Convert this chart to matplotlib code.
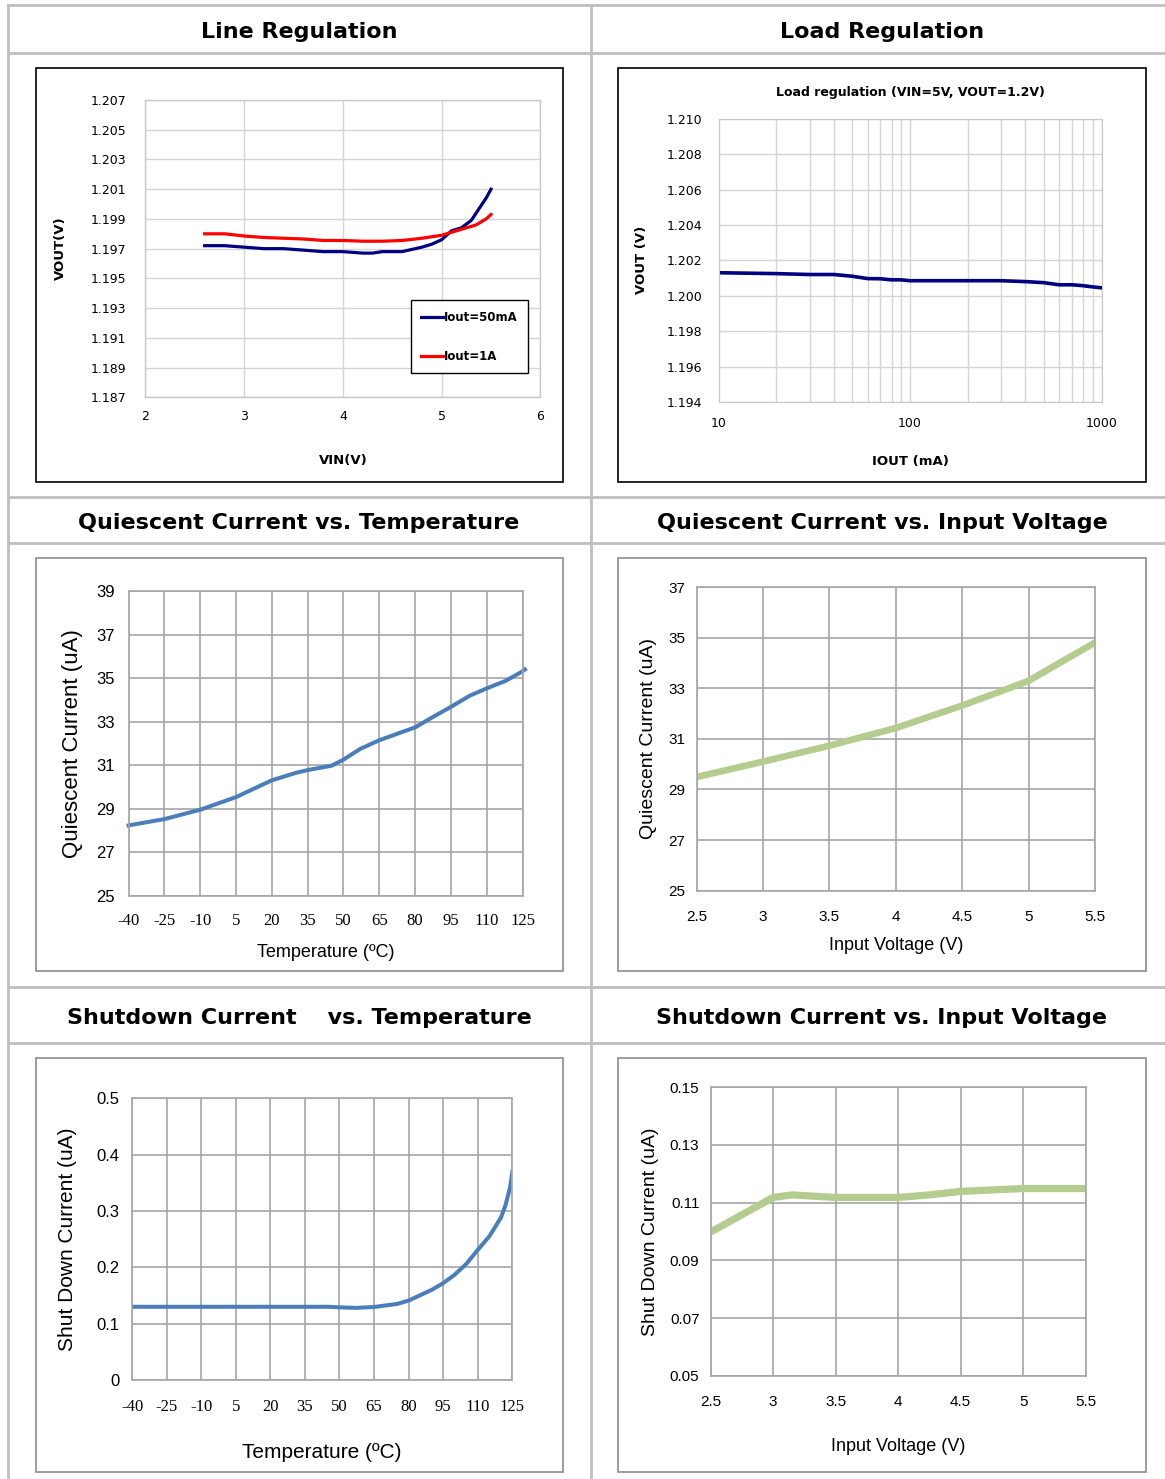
import matplotlib
matplotlib.use("Agg")
import matplotlib.pyplot as plt
from matplotlib.lines import Line2D
from matplotlib.patches import Rectangle
import numpy as np

W, H = 1165, 1479

# ---- data ----
# Line regulation
vin_50ma = [2.6, 2.8, 3.0, 3.2, 3.4, 3.6, 3.8, 4.0, 4.2, 4.3, 4.4, 4.6, 4.8, 4.9, 5.0, 5.05, 5.1, 5.2, 5.3,
            5.36, 5.45, 5.5]
vout_50ma = [1.1972, 1.1972, 1.1971, 1.1970, 1.1970, 1.1969, 1.1968, 1.1968, 1.1967, 1.1967, 1.1968, 1.1968,
             1.1971, 1.1973, 1.1976, 1.1979, 1.1982, 1.1984, 1.1989, 1.1995, 1.2004, 1.2010]
vin_1a = [2.6, 2.8, 3.0, 3.2, 3.4, 3.6, 3.8, 4.0, 4.2, 4.4, 4.6, 4.8, 5.0, 5.2, 5.35, 5.45, 5.5]
vout_1a = [1.1980, 1.1980, 1.19785, 1.19775, 1.1977, 1.19765, 1.19755, 1.19755, 1.1975, 1.1975, 1.19755, 1.1977,
           1.1979, 1.1983, 1.1986, 1.1990, 1.1993]

# Load regulation
iout = [10, 20, 30, 40, 50, 60, 70, 80, 90, 100, 200, 300, 400, 500, 600, 700, 800, 900, 1000]
vout_load = [1.2013, 1.20125, 1.2012, 1.2012, 1.2011, 1.20097, 1.20096, 1.2009, 1.2009, 1.20085, 1.20085,
             1.20085, 1.2008, 1.20074, 1.20062, 1.20062, 1.20057, 1.2005, 1.20045]

# Quiescent current vs temperature
temp_q = [-40, -25, -10, 5, 20, 30, 35, 45, 50, 57, 65, 80, 88, 95, 103, 110, 118, 125, 126]
iq_temp = [28.24, 28.53, 28.96, 29.54, 30.31, 30.65, 30.78, 30.98, 31.26, 31.75, 32.15, 32.74, 33.25, 33.68,
           34.2, 34.53, 34.88, 35.31, 35.4]

# Quiescent current vs input voltage
vin_q = [2.5, 3.0, 3.5, 4.0, 4.5, 4.8, 5.0, 5.25, 5.5]
iq_vin = [29.49, 30.10, 30.73, 31.43, 32.32, 32.9, 33.30, 34.06, 34.81]

# Shutdown current vs temperature
temp_sd = [-40, -25, -10, 5, 20, 35, 45, 50, 57, 65, 75, 80, 90, 95, 100, 105, 110, 115, 120, 122, 124, 125]
isd_temp = [0.13, 0.13, 0.13, 0.13, 0.13, 0.13, 0.13, 0.129, 0.128, 0.1296, 0.135, 0.141, 0.160, 0.172,
            0.187, 0.206, 0.231, 0.255, 0.288, 0.31, 0.342, 0.370]

# Shutdown current vs input voltage
vin_sd = [2.5, 2.75, 3.0, 3.15, 3.5, 4.0, 4.25, 4.5, 5.0, 5.5]
isd_vin = [0.0998, 0.1058, 0.1118, 0.1127, 0.1118, 0.1118, 0.1127, 0.1139, 0.1149, 0.1149]

temp_ticks = [-40, -25, -10, 5, 20, 35, 50, 65, 80, 95, 110, 125]
vin_ticks = [2.5, 3, 3.5, 4, 4.5, 5, 5.5]

TITLE_FONT = "DejaVu Sans"
GOTHIC = "DejaVu Sans"
CAL = ["Liberation Sans Narrow", "Liberation Sans"]
SERIF = "Liberation Serif"

fig = plt.figure(figsize=(W / 100, H / 100), dpi=100)
fig.patch.set_facecolor("white")


def px_axes(l, t, r, b):
    return fig.add_axes([l / W, 1 - b / H, (r - l) / W, (b - t) / H])


def fig_line(x0, y0, x1, y1, color="#bfbfbf", lw=2):
    fig.add_artist(Line2D([x0 / W, x1 / W], [1 - y0 / H, 1 - y1 / H], color=color, lw=lw,
                          transform=fig.transFigure))


def box(l, t, r, b, color):
    fig.add_artist(Rectangle((l / W, 1 - b / H), (r - l) / W, (b - t) / H, fill=False,
                             edgecolor=color, lw=1.2, transform=fig.transFigure))


def fig_text(x, y, s, **kw):
    fig.text(x / W, 1 - y / H, s, **kw)


# ---- table grid ----
for y in [5, 53, 497, 543, 987, 1043]:
    fig_line(8, y, 1165, y)
fig_line(8, 5, 8, 1479)
fig_line(591, 5, 591, 1479)

titles = [(299, 32, "Line Regulation"), (882, 32, "Load Regulation"),
          (299, 523, "Quiescent Current vs. Temperature"), (882, 523, "Quiescent Current vs. Input Voltage"),
          (299, 1018, "Shutdown Current    vs. Temperature"), (882, 1018, "Shutdown Current vs. Input Voltage")]
for x, y, s in titles:
    fig_text(x, y, s, ha="center", va="center", fontsize=16, fontweight="bold", family=TITLE_FONT)

box(36, 68, 563, 482, "black")
box(618, 68, 1146, 482, "black")
box(36, 558, 563, 971, "#8c8c8c")
box(618, 558, 1146, 971, "#8c8c8c")
box(36, 1058, 563, 1472, "#8c8c8c")
box(618, 1058, 1146, 1472, "#8c8c8c")


def style(ax, gcol, scol, lw=1.0):
    ax.grid(True, color=gcol, lw=lw)
    ax.set_axisbelow(True)
    for sp in ax.spines.values():
        sp.set_color(scol)
        sp.set_linewidth(lw)
    ax.tick_params(length=0, pad=6)


# ---- chart 1: line regulation ----
ax1 = px_axes(145.4, 100, 540.4, 397.3)
ax1.plot(vin_50ma, vout_50ma, color="#000080", lw=2.3, label="Iout=50mA", solid_joinstyle="round")
ax1.plot(vin_1a, vout_1a, color="#ff0000", lw=2.3, label="Iout=1A", solid_joinstyle="round")
ax1.set_xlim(2, 6)
ax1.set_ylim(1.187, 1.207)
ax1.set_xticks([2, 3, 4, 5, 6])
ax1.set_yticks(np.arange(1.187, 1.2071, 0.002))
ax1.set_yticklabels(["%.3f" % v for v in np.arange(1.187, 1.2071, 0.002)])
style(ax1, "#d4d4d4", "#c8c8c8")
ax1.tick_params(axis="x", labelsize=9, pad=9.5)
ax1.tick_params(axis="y", labelsize=9, pad=14)
for lab in ax1.get_xticklabels() + ax1.get_yticklabels():
    lab.set_family(GOTHIC)
ax1.set_xlabel("VIN(V)", fontsize=9.5, fontweight="bold", family=GOTHIC, labelpad=22)
ax1.set_ylabel("VOUT(V)", fontsize=9.5, fontweight="bold", family=GOTHIC, labelpad=17)
leg = ax1.legend(loc="upper left", bbox_to_anchor=(0.672, 0.327), frameon=True, fancybox=False,
                 edgecolor="black", framealpha=1, prop={"size": 8.5, "weight": "bold", "family": GOTHIC},
                 labelspacing=2.2, handlelength=1.8, handletextpad=0.1, borderpad=0.9, borderaxespad=0)
leg.get_frame().set_linewidth(1.0)

# ---- chart 2: load regulation ----
ax2 = px_axes(718.7, 118.7, 1101.5, 402)
ax2.plot(iout, vout_load, color="#000080", lw=2.6, solid_joinstyle="round")
ax2.set_xscale("log")
ax2.set_xlim(10, 1000)
ax2.set_ylim(1.194, 1.210)
ax2.set_xticks([10, 100, 1000])
ax2.set_xticklabels(["10", "100", "1000"])
ax2.set_yticks(np.arange(1.194, 1.2101, 0.002))
ax2.set_yticklabels(["%.3f" % v for v in np.arange(1.194, 1.2101, 0.002)])
ax2.grid(True, which="both", color="#d4d4d4", lw=1.0)
ax2.set_axisbelow(True)
for sp in ax2.spines.values():
    sp.set_color("#c8c8c8")
ax2.tick_params(which="both", length=0, labelsize=9)
ax2.tick_params(axis="x", pad=10.5)
ax2.tick_params(axis="y", pad=12)
for lab in ax2.get_xticklabels() + ax2.get_yticklabels():
    lab.set_family(GOTHIC)
ax2.set_title("Load regulation (VIN=5V, VOUT=1.2V)", fontsize=9, fontweight="bold", family=GOTHIC, pad=16)
ax2.set_xlabel("IOUT (mA)", fontsize=9.5, fontweight="bold", family=GOTHIC, labelpad=18)
ax2.set_ylabel("VOUT (V)", fontsize=9.5, fontweight="bold", family=GOTHIC, labelpad=13)


def temp_axes(ax):
    ax.set_xlim(-40, 125)
    ax.set_xticks(temp_ticks)
    ax.set_xticklabels([str(t) for t in temp_ticks], family=SERIF, fontsize=12)


# ---- chart 3: quiescent vs temperature ----
ax3 = px_axes(128.6, 591, 522.5, 896)
ax3.plot(temp_q, iq_temp, color="#4a7ebb", lw=2.9, clip_on=False, solid_joinstyle="round")
temp_axes(ax3)
ax3.set_ylim(25, 39)
ax3.set_yticks(range(25, 40, 2))
style(ax3, "#a6a6a6", "#a6a6a6", 1.2)
ax3.tick_params(axis="x", pad=12)
ax3.tick_params(axis="y", pad=10)
for lab in ax3.get_yticklabels():
    lab.set_family(CAL)
    lab.set_fontsize(12)
ax3.set_xlabel("Temperature (ºC)", fontsize=13, family=CAL, labelpad=11)
ax3.set_ylabel("Quiescent Current (uA)", fontsize=16, family=CAL, labelpad=9)

# ---- chart 4: quiescent vs input voltage ----
ax4 = px_axes(696.5, 587, 1095.4, 890.7)
ax4.plot(vin_q, iq_vin, color="#b4cc8e", lw=4.8, solid_capstyle="butt", solid_joinstyle="round")
ax4.set_xlim(2.5, 5.5)
ax4.set_xticks(vin_ticks)
ax4.set_xticklabels(["2.5", "3", "3.5", "4", "4.5", "5", "5.5"])
ax4.set_ylim(25, 37)
ax4.set_yticks(range(25, 38, 2))
style(ax4, "#a6a6a6", "#a6a6a6", 1.2)
ax4.tick_params(axis="x", pad=14)
ax4.tick_params(axis="y", pad=8)
for lab in ax4.get_xticklabels() + ax4.get_yticklabels():
    lab.set_family(CAL)
    lab.set_fontsize(11)
ax4.set_xlabel("Input Voltage (V)", fontsize=13, family=CAL, labelpad=9.5)
ax4.set_ylabel("Quiescent Current (uA)", fontsize=14, family=CAL, labelpad=8)

# ---- chart 5: shutdown vs temperature ----
ax5 = px_axes(132, 1098.3, 512.4, 1380)
ax5.plot(temp_sd, isd_temp, color="#4a7ebb", lw=2.9, solid_joinstyle="round")
temp_axes(ax5)
ax5.set_ylim(0, 0.5)
ax5.set_yticks([0, 0.1, 0.2, 0.3, 0.4, 0.5])
ax5.set_yticklabels(["0", "0.1", "0.2", "0.3", "0.4", "0.5"])
style(ax5, "#a6a6a6", "#a6a6a6", 1.2)
ax5.tick_params(axis="x", pad=13.5)
ax5.tick_params(axis="y", pad=9)
for lab in ax5.get_yticklabels():
    lab.set_family(CAL)
    lab.set_fontsize(12)
ax5.set_xlabel("Temperature (ºC)", fontsize=15, family=CAL, labelpad=20.5)
ax5.set_ylabel("Shut Down Current (uA)", fontsize=15, family=CAL, labelpad=14)

# ---- chart 6: shutdown vs input voltage ----
ax6 = px_axes(710.6, 1087.3, 1085.7, 1375.7)
ax6.plot(vin_sd, isd_vin, color="#b4cc8e", lw=5.2, solid_capstyle="butt", solid_joinstyle="round")
ax6.set_xlim(2.5, 5.5)
ax6.set_xticks(vin_ticks)
ax6.set_xticklabels(["2.5", "3", "3.5", "4", "4.5", "5", "5.5"])
ax6.set_ylim(0.05, 0.15)
ax6.set_yticks([0.05, 0.07, 0.09, 0.11, 0.13, 0.15])
ax6.set_yticklabels(["0.05", "0.07", "0.09", "0.11", "0.13", "0.15"])
style(ax6, "#a6a6a6", "#a6a6a6", 1.2)
ax6.tick_params(axis="x", pad=14)
ax6.tick_params(axis="y", pad=8)
for lab in ax6.get_xticklabels() + ax6.get_yticklabels():
    lab.set_family(CAL)
    lab.set_fontsize(11)
ax6.set_xlabel("Input Voltage (V)", fontsize=13, family=CAL, labelpad=21)
ax6.set_ylabel("Shut Down Current (uA)", fontsize=14, family=CAL, labelpad=8)

fig.savefig("out.png", dpi=100, facecolor="white")
